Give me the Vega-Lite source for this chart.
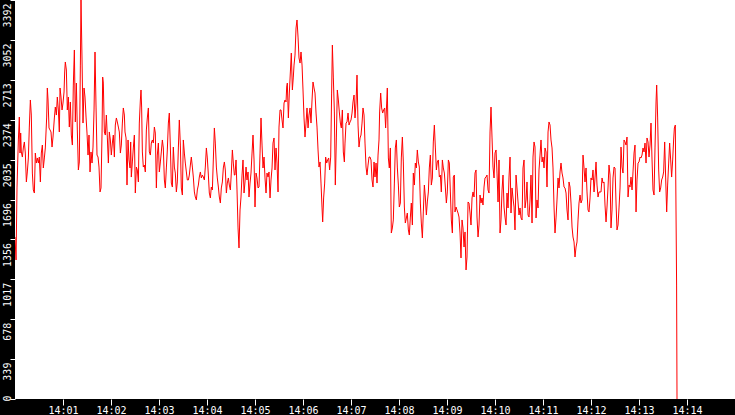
{
  "$schema": "https://vega.github.io/schema/vega-lite/v6.json",
  "autosize": "none",
  "width": 720,
  "height": 399,
  "padding": {"left": 15, "top": 0, "right": 0, "bottom": 16},
  "background": "black",
  "data": {"values": [
    {"t":0,"v":1377},{"t":1.3,"v":1182},{"t":2.5,"v":1794},{"t":3.3,"v":1989},{"t":4.2,"v":2202},{"t":5.4,"v":2397},{"t":6.3,"v":2091},{"t":7.1,"v":2261},{"t":7.9,"v":2100},{"t":9.2,"v":2057},
    {"t":10.4,"v":2134},{"t":11.7,"v":2185},{"t":12.9,"v":2091},{"t":14.2,"v":1845},{"t":15.4,"v":1930},{"t":16.7,"v":2049},{"t":17.9,"v":2312},{"t":19.2,"v":2542},{"t":20.4,"v":2414},{"t":21.7,"v":1921},
    {"t":22.9,"v":1777},{"t":24.2,"v":1751},{"t":25.4,"v":2091},{"t":26.7,"v":2006},{"t":27.9,"v":2049},{"t":29.2,"v":2006},{"t":30.4,"v":2057},{"t":31.7,"v":1845},{"t":32.9,"v":2091},{"t":34.2,"v":2159},
    {"t":35.4,"v":1964},{"t":36.7,"v":2049},{"t":37.9,"v":2134},{"t":39.6,"v":2397},{"t":40.4,"v":2644},{"t":41.3,"v":2542},{"t":42.5,"v":2304},{"t":43.8,"v":2287},{"t":45,"v":2270},{"t":46.3,"v":2142},
    {"t":47.5,"v":2227},{"t":49.2,"v":2389},{"t":50.4,"v":2482},{"t":51.7,"v":2414},{"t":52.9,"v":2567},{"t":54.2,"v":2457},{"t":55.4,"v":2270},{"t":56.3,"v":2644},{"t":57.5,"v":2567},{"t":58.8,"v":2457},
    {"t":60,"v":2516},{"t":61.3,"v":2610},{"t":62.1,"v":2780},{"t":62.9,"v":2865},{"t":64.2,"v":2797},{"t":65.4,"v":2457},{"t":66.7,"v":2567},{"t":67.9,"v":2312},{"t":69.2,"v":2525},{"t":70.4,"v":2244},
    {"t":71.7,"v":2159},{"t":72.9,"v":2669},{"t":74.2,"v":2967},{"t":75.4,"v":2355},{"t":76.7,"v":2686},{"t":77.9,"v":2287},{"t":79.2,"v":1947},{"t":80.4,"v":2015},{"t":81.7,"v":2839},{"t":82.5,"v":3392},
    {"t":83.8,"v":2882},{"t":85,"v":2346},{"t":86.3,"v":2644},{"t":87.5,"v":2567},{"t":88.8,"v":2397},{"t":90,"v":2261},{"t":91.3,"v":2074},{"t":92.5,"v":2244},{"t":93.8,"v":1930},{"t":95,"v":2100},
    {"t":96.3,"v":2006},{"t":97.5,"v":2142},{"t":98.8,"v":2457},{"t":100,"v":2950},{"t":101.3,"v":2482},{"t":102.5,"v":2074},{"t":103.8,"v":2057},{"t":105,"v":1972},{"t":106.3,"v":1760},{"t":107.5,"v":1794},
    {"t":108.8,"v":2261},{"t":109.6,"v":2737},{"t":110.4,"v":2686},{"t":111.7,"v":2270},{"t":112.9,"v":2244},{"t":114.2,"v":2414},{"t":115.4,"v":2227},{"t":116.7,"v":2006},{"t":117.9,"v":2270},{"t":119.2,"v":2202},
    {"t":120.4,"v":2074},{"t":121.7,"v":2176},{"t":122.9,"v":2244},{"t":124.2,"v":2057},{"t":125.4,"v":2329},{"t":126.7,"v":2389},{"t":127.9,"v":2355},{"t":129.2,"v":2312},{"t":130.4,"v":2270},{"t":131.7,"v":2091},
    {"t":132.9,"v":2159},{"t":134.2,"v":2346},{"t":135.4,"v":2474},{"t":136.7,"v":2414},
    {"t":137.5,"v":2270},{"t":138.8,"v":2219},{"t":140,"v":1819},{"t":141.3,"v":2202},{"t":142.5,"v":2032},{"t":143.8,"v":1964},{"t":144.6,"v":2185},{"t":145.4,"v":1887},{"t":146.7,"v":2015},{"t":147.9,"v":2134},
    {"t":149.2,"v":2244},{"t":150.4,"v":1751},{"t":151.7,"v":1972},{"t":152.9,"v":1947},{"t":154.2,"v":1845},{"t":155.4,"v":2346},{"t":156.7,"v":2542},{"t":157.5,"v":2627},{"t":158.3,"v":2482},{"t":159.2,"v":2100},
    {"t":160.4,"v":1972},{"t":161.7,"v":1989},{"t":162.9,"v":1930},{"t":164.2,"v":2287},{"t":165.4,"v":2389},{"t":166.7,"v":2474},{"t":167.9,"v":2100},{"t":169.2,"v":2074},{"t":170.4,"v":2176},{"t":171.7,"v":2202},
    {"t":172.9,"v":2176},{"t":174.2,"v":2312},{"t":175.4,"v":2261},{"t":176.7,"v":1794},{"t":177.9,"v":2074},{"t":179.2,"v":2176},{"t":180.4,"v":1930},{"t":181.7,"v":2015},{"t":182.9,"v":2100},{"t":184.2,"v":2202},
    {"t":185.4,"v":2134},{"t":186.7,"v":1862},{"t":187.9,"v":1794},{"t":189.2,"v":1964},{"t":190.4,"v":2117},{"t":191.7,"v":2346},{"t":192.9,"v":2431},{"t":194.2,"v":2142},{"t":195.4,"v":1836},{"t":196.7,"v":1802},
    {"t":197.9,"v":2142},{"t":199.2,"v":1972},{"t":200.4,"v":1921},{"t":201.7,"v":1760},{"t":202.9,"v":1845},{"t":204.2,"v":2134},{"t":205.4,"v":2372},{"t":206.7,"v":2159},{"t":207.9,"v":1794},{"t":209.2,"v":1734},
    {"t":210.4,"v":2202},{"t":211.7,"v":2091},{"t":212.9,"v":2006},{"t":214.2,"v":1930},{"t":215.4,"v":1862},{"t":216.7,"v":1862},{"t":217.9,"v":1904},{"t":219.2,"v":1989},{"t":220.4,"v":2057},{"t":221.7,"v":1972},
    {"t":222.9,"v":1887},{"t":224.2,"v":1760},{"t":225.4,"v":1717},{"t":226.7,"v":1692},{"t":227.9,"v":1777},{"t":229.2,"v":1819},{"t":230.4,"v":1887},{"t":231.7,"v":1930},{"t":232.9,"v":1879},{"t":234.2,"v":1904},
    {"t":235.4,"v":1887},{"t":236.7,"v":1862},{"t":237.9,"v":1972},{"t":239.2,"v":2134},{"t":240.4,"v":2049},{"t":241.7,"v":1904},{"t":242.9,"v":1751},{"t":244.2,"v":1709},{"t":245.4,"v":1802},{"t":246.7,"v":1777},
    {"t":247.9,"v":2032},{"t":249.2,"v":2304},{"t":250.4,"v":2176},{"t":251.7,"v":1972},{"t":252.9,"v":1879},{"t":254.2,"v":1802},{"t":255.4,"v":1717},{"t":256.7,"v":1666},{"t":257.9,"v":1794},{"t":259.2,"v":1845},
    {"t":260.4,"v":1964},{"t":261.7,"v":2015},{"t":262.9,"v":1947},{"t":264.2,"v":1751},{"t":265.4,"v":1836},{"t":266.7,"v":1879},{"t":267.9,"v":1819},{"t":269.2,"v":1777},{"t":270.4,"v":1921},{"t":271.7,"v":2117},
    {"t":272.9,"v":2006},{"t":274.2,"v":1904},
    {"t":275,"v":1904},{"t":276.3,"v":2032},{"t":277.5,"v":1777},{"t":278.8,"v":1454},{"t":280,"v":1284},{"t":281.3,"v":1607},{"t":282.5,"v":1717},{"t":283.8,"v":1904},{"t":285,"v":2032},{"t":286.3,"v":1751},
    {"t":287.5,"v":1845},{"t":288.8,"v":1972},{"t":290,"v":1862},{"t":291.3,"v":1930},{"t":292.5,"v":1717},{"t":293.8,"v":1836},{"t":295,"v":1921},{"t":296.3,"v":2091},{"t":297.5,"v":2244},{"t":298.8,"v":2032},
    {"t":300,"v":1632},{"t":301.3,"v":1921},{"t":302.5,"v":1879},{"t":303.8,"v":1794},{"t":305,"v":1802},{"t":306.3,"v":2091},{"t":307.5,"v":2389},{"t":308.8,"v":2159},{"t":310,"v":1964},{"t":311.3,"v":2057},
    {"t":312.5,"v":1879},{"t":313.8,"v":1751},{"t":315,"v":1921},{"t":316.3,"v":1887},{"t":317.5,"v":1930},{"t":318.8,"v":1709},{"t":320,"v":1862},{"t":321.3,"v":1964},{"t":322.5,"v":2176},{"t":323.8,"v":2219},
    {"t":325,"v":1947},{"t":326.3,"v":2134},{"t":327.5,"v":2006},{"t":328.8,"v":1760},{"t":330,"v":2312},{"t":331.3,"v":2457},{"t":332.5,"v":2457},{"t":333.8,"v":2372},{"t":335,"v":2304},{"t":336.3,"v":2516},
    {"t":337.5,"v":2542},{"t":338.8,"v":2525},{"t":339.6,"v":2652},{"t":340.4,"v":2686},{"t":341.7,"v":2389},{"t":342.9,"v":2601},{"t":344.2,"v":2780},{"t":345.4,"v":2941},{"t":346.7,"v":2627},{"t":347.9,"v":2737},
    {"t":348.8,"v":2839},{"t":350,"v":2924},{"t":351.3,"v":3154},{"t":352.5,"v":3222},{"t":353.8,"v":3077},{"t":355,"v":2899},{"t":356.3,"v":2856},{"t":357.5,"v":2950},{"t":358.8,"v":2839},{"t":360,"v":2627},
    {"t":361.3,"v":2389},{"t":362.5,"v":2227},{"t":363.8,"v":2346},{"t":365,"v":2474},{"t":366.3,"v":2304},{"t":367.5,"v":2414},{"t":368.8,"v":2474},{"t":370,"v":2346},{"t":371.3,"v":2542},{"t":372.5,"v":2695},
    {"t":373.8,"v":2644},{"t":375,"v":2601},{"t":376.3,"v":2431},{"t":377.5,"v":2312},{"t":378.8,"v":2117},{"t":380,"v":1972},{"t":381.3,"v":2015},{"t":382.5,"v":1836},{"t":383.8,"v":1624},{"t":384.6,"v":1505},
    {"t":385.8,"v":1709},{"t":387.1,"v":1836},{"t":388.3,"v":2057},{"t":389.6,"v":2006},{"t":390.8,"v":2032},{"t":392.1,"v":2049},{"t":393.3,"v":1947},{"t":394.6,"v":2057},{"t":395.8,"v":2601},{"t":396.7,"v":3009},
    {"t":397.9,"v":2737},{"t":399.2,"v":2440},{"t":400.4,"v":1819},{"t":401.7,"v":2219},{"t":402.9,"v":2627},{"t":404.2,"v":2542},{"t":405.4,"v":2440},{"t":406.7,"v":2346},{"t":407.9,"v":2304},{"t":409.2,"v":2457},
    {"t":410.4,"v":2100},{"t":411.7,"v":2015},
    {"t":412.5,"v":2176},{"t":413.8,"v":2346},{"t":415,"v":2355},{"t":416.3,"v":2431},{"t":417.5,"v":2329},{"t":418.8,"v":2355},{"t":420,"v":2372},{"t":421.3,"v":2431},{"t":422.5,"v":2525},{"t":423.8,"v":2584},
    {"t":425,"v":2389},{"t":426.3,"v":2516},{"t":427.5,"v":2754},{"t":428.8,"v":2329},{"t":430,"v":2142},{"t":431.3,"v":2219},{"t":432.5,"v":2244},{"t":433.8,"v":2346},{"t":435,"v":2474},{"t":436.3,"v":2414},
    {"t":437.5,"v":2176},{"t":438.8,"v":1972},{"t":440,"v":1904},{"t":441.3,"v":1989},{"t":442.5,"v":2057},{"t":443.8,"v":2057},{"t":445,"v":2032},{"t":446.3,"v":1862},{"t":447.5,"v":1802},{"t":448.8,"v":2015},
    {"t":450,"v":1887},{"t":451.3,"v":2006},{"t":452.5,"v":1836},{"t":453.8,"v":2074},{"t":455,"v":2202},{"t":455.8,"v":2440},{"t":457.1,"v":2601},{"t":458.3,"v":2474},{"t":459.6,"v":2431},{"t":460.8,"v":2457},
    {"t":462.1,"v":2474},{"t":463.3,"v":2304},{"t":464.6,"v":2516},{"t":465.4,"v":2644},{"t":466.7,"v":2049},{"t":467.9,"v":1964},{"t":469.2,"v":2134},{"t":470.4,"v":1411},{"t":471.7,"v":1454},{"t":472.9,"v":1522},
    {"t":474.2,"v":1836},{"t":475.4,"v":2134},{"t":476.7,"v":2202},{"t":477.9,"v":1972},{"t":479.2,"v":1819},{"t":480.4,"v":1632},{"t":481.7,"v":1666},{"t":482.9,"v":2049},{"t":484.2,"v":2227},{"t":485.4,"v":2015},
    {"t":486.7,"v":1632},{"t":487.9,"v":1496},{"t":489.2,"v":1539},{"t":490.4,"v":1581},{"t":491.7,"v":1437},{"t":492.9,"v":1394},{"t":494.2,"v":1547},{"t":495.4,"v":1666},{"t":496.7,"v":1479},{"t":497.9,"v":1921},
    {"t":499.2,"v":1819},{"t":500.4,"v":2006},{"t":501.7,"v":1964},{"t":502.9,"v":2117},{"t":504.2,"v":2015},{"t":505.4,"v":1972},{"t":506.7,"v":1666},{"t":507.9,"v":1496},{"t":509.2,"v":1369},{"t":510.4,"v":1590},
    {"t":511.7,"v":1819},{"t":512.9,"v":1717},{"t":514.2,"v":1564},{"t":515.4,"v":1675},{"t":516.7,"v":1760},{"t":517.9,"v":1964},{"t":519.2,"v":2074},{"t":520.4,"v":1819},{"t":521.7,"v":1879},{"t":522.9,"v":2185},
    {"t":524.2,"v":2329},{"t":525.4,"v":2142},{"t":526.7,"v":1947},{"t":527.9,"v":2015},{"t":529.2,"v":2032},{"t":530.4,"v":1887},{"t":531.7,"v":1904},{"t":532.9,"v":1760},{"t":534.2,"v":2032},{"t":535.4,"v":1964},
    {"t":536.7,"v":1921},{"t":537.9,"v":1802},{"t":539.2,"v":1666},{"t":540.4,"v":1760},{"t":541.7,"v":2032},{"t":542.9,"v":2006},{"t":544.2,"v":1760},{"t":545.4,"v":1522},{"t":546.7,"v":1411},{"t":547.9,"v":1887},
    {"t":549.2,"v":1904},
    {"t":550,"v":1590},{"t":551.3,"v":1632},{"t":552.5,"v":1607},{"t":553.8,"v":1581},{"t":555,"v":1547},{"t":556.3,"v":1411},{"t":557.5,"v":1199},{"t":558.8,"v":1522},{"t":560,"v":1454},{"t":561.3,"v":1292},
    {"t":562.5,"v":1420},{"t":563.8,"v":1097},{"t":565,"v":1207},{"t":566.3,"v":1675},{"t":567.5,"v":1666},{"t":568.8,"v":1581},{"t":570,"v":1479},{"t":571.3,"v":1709},{"t":572.5,"v":1760},{"t":573.8,"v":1717},
    {"t":575,"v":1921},{"t":576.3,"v":1947},{"t":577.5,"v":1547},{"t":578.8,"v":1377},{"t":580,"v":1479},{"t":581.3,"v":1734},{"t":582.5,"v":1666},{"t":583.8,"v":1709},{"t":585,"v":1649},{"t":586.3,"v":1802},
    {"t":587.5,"v":1879},{"t":588.8,"v":1887},{"t":590,"v":1904},{"t":591.3,"v":1777},{"t":592.5,"v":1751},{"t":593.8,"v":2270},{"t":595,"v":2482},{"t":596.3,"v":2219},{"t":597.5,"v":1972},{"t":598.8,"v":1879},
    {"t":600,"v":2091},{"t":601.3,"v":2117},{"t":602.5,"v":1921},{"t":603.8,"v":1675},{"t":605,"v":2032},{"t":606.3,"v":1411},{"t":607.5,"v":1522},{"t":608.8,"v":1777},{"t":610,"v":1904},{"t":611.3,"v":1632},
    {"t":612.5,"v":1547},{"t":613.8,"v":1479},{"t":615,"v":1751},{"t":616.3,"v":1624},{"t":617.5,"v":1887},{"t":618.8,"v":2057},{"t":620,"v":1581},{"t":621.3,"v":1794},{"t":622.5,"v":1709},{"t":623.8,"v":1632},
    {"t":625,"v":1437},{"t":626.3,"v":1904},{"t":627.5,"v":1794},{"t":628.8,"v":1675},{"t":630,"v":1564},{"t":631.3,"v":1624},{"t":632.5,"v":1539},{"t":633.8,"v":1522},{"t":635,"v":1964},{"t":636.3,"v":2032},
    {"t":637.5,"v":1624},{"t":638.8,"v":1692},{"t":640,"v":1845},{"t":641.3,"v":1564},{"t":642.5,"v":1547},{"t":643.8,"v":1692},{"t":645,"v":1904},{"t":646.3,"v":1496},{"t":647.5,"v":2057},{"t":648.8,"v":2185},
    {"t":650,"v":2142},{"t":651.3,"v":1539},{"t":652.5,"v":1692},{"t":653.8,"v":1624},{"t":655,"v":1947},{"t":656.3,"v":2074},{"t":657.5,"v":2202},{"t":658.8,"v":2015},{"t":660,"v":2057},{"t":661.3,"v":1964},
    {"t":662.5,"v":2134},{"t":663.8,"v":2100},{"t":665,"v":1802},{"t":666.3,"v":2270},{"t":667.5,"v":2355},{"t":668.8,"v":2329},{"t":670,"v":2202},{"t":671.3,"v":2134},{"t":672.5,"v":1964},{"t":673.8,"v":1632},
    {"t":675,"v":1411},{"t":676.3,"v":1539},{"t":677.5,"v":1692},{"t":678.8,"v":1879},{"t":680,"v":1794},{"t":681.3,"v":1930},{"t":682.5,"v":2006},{"t":683.8,"v":1921},{"t":685,"v":1879},{"t":686.3,"v":1802},
    {"t":687.5,"v":1794},{"t":688.8,"v":1751},{"t":690,"v":1607},{"t":691.3,"v":1522},{"t":692.5,"v":1845},{"t":693.8,"v":1802},{"t":695,"v":1666},{"t":696.3,"v":1462},{"t":697.5,"v":1377},{"t":698.8,"v":1335},
    {"t":700,"v":1207},{"t":701.3,"v":1292},{"t":702.5,"v":1335},{"t":703.8,"v":1522},{"t":705,"v":1666},{"t":706.3,"v":1734},{"t":707.5,"v":1666},{"t":708.8,"v":1692},{"t":710,"v":2074},{"t":711.3,"v":1964},
    {"t":712.5,"v":1845},{"t":713.8,"v":1964},{"t":715,"v":1760},{"t":716.3,"v":1607},{"t":717.5,"v":1590},{"t":718.8,"v":1709},{"t":720,"v":1879},{"t":721.3,"v":1862},{"t":722.5,"v":1947},{"t":723.8,"v":1760},
    {"t":725,"v":1879},{"t":726.3,"v":2015},{"t":727.5,"v":1819},{"t":728.8,"v":1717},{"t":730,"v":1760},{"t":731.3,"v":1760},{"t":732.5,"v":1760},{"t":733.8,"v":1879},{"t":735,"v":1836},{"t":736.3,"v":1845},
    {"t":737.5,"v":1649},{"t":738.8,"v":1505},{"t":740,"v":1632},{"t":741.3,"v":1802},{"t":742.5,"v":1989},{"t":743.8,"v":1904},{"t":745,"v":1454},{"t":746.3,"v":1607},{"t":747.5,"v":1879},{"t":748.8,"v":1972},
    {"t":750,"v":1964},{"t":751.3,"v":1666},{"t":752.5,"v":1437},{"t":753.8,"v":1479},{"t":755,"v":1624},{"t":756.3,"v":1794},{"t":757.5,"v":2142},{"t":758.8,"v":1972},{"t":760,"v":1921},{"t":761.3,"v":2202},
    {"t":762.5,"v":2185},{"t":763.8,"v":2159},{"t":765,"v":2227},{"t":766.3,"v":1717},{"t":767.5,"v":1819},{"t":768.8,"v":1802},{"t":770,"v":1887},{"t":771.3,"v":1777},{"t":772.5,"v":1930},{"t":773.8,"v":2091},
    {"t":775,"v":2159},{"t":776.3,"v":1590},{"t":777.5,"v":1862},{"t":778.8,"v":2006},{"t":780,"v":2015},{"t":781.3,"v":2057},{"t":782.5,"v":2049},{"t":783.8,"v":2074},{"t":785,"v":2134},{"t":786.3,"v":2100},
    {"t":787.5,"v":2176},{"t":788.8,"v":2006},{"t":790,"v":2219},{"t":791.3,"v":2185},{"t":792.5,"v":2057},{"t":793.8,"v":2159},{"t":795,"v":2346},{"t":796.3,"v":2032},{"t":797.5,"v":1777},{"t":798.8,"v":1734},
    {"t":800,"v":2134},{"t":801.3,"v":2525},{"t":802.1,"v":2669},{"t":803.3,"v":2397},{"t":804.6,"v":1947},{"t":805.8,"v":1760},{"t":807.1,"v":1794},{"t":808.3,"v":1862},{"t":809.6,"v":1887},{"t":810.8,"v":1930},
    {"t":812.1,"v":2185},{"t":813.3,"v":1887},{"t":814.6,"v":1590},{"t":815.8,"v":1819},{"t":817.1,"v":2006},{"t":818.3,"v":2176},{"t":819.6,"v":2032},{"t":820.8,"v":1887},{"t":822.1,"v":2032},{"t":823.3,"v":2202},
    {"t":824.2,"v":2304},{"t":825.4,"v":2329},{"t":827,"v":969},{"t":827.5,"v":0}
  ]},
  "mark": {"type": "line", "color": "#ff0000", "strokeWidth": 1, "clip": true},
  "encoding": {
    "x": {
      "field": "t",
      "type": "quantitative",
      "scale": {"domain": [0, 900], "nice": false, "zero": false},
      "axis": {
        "title": null,
        "values": [60, 120, 180, 240, 300, 360, 420, 480, 540, 600, 660, 720, 780, 840],
        "labelExpr": "'14:' + (datum.value < 600 ? '0' : '') + (datum.value / 60)",
        "tickSize": 6,
        "labelPadding": 0,
        "labelBaseline": "top",
        "labelFlush": false,
        "labelOverlap": false
      }
    },
    "y": {
      "field": "v",
      "type": "quantitative",
      "scale": {"domain": [0, 3392], "nice": false},
      "axis": {
        "title": null,
        "values": [0, 339.2, 678.4, 1017.6, 1356.8, 1696, 2035.2, 2374.4, 2713.6, 3052.8, 3392],
        "labelExpr": "floor(datum.value + 0.001)",
        "labelAngle": 270,
        "labelAlign": "right",
        "labelBaseline": "alphabetic",
        "labelOffset": {"condition": {"test": "datum.value === 0", "value": -4}, "value": 3},
        "tickSize": 5,
        "labelPadding": 0,
        "labelFlush": false,
        "labelOverlap": false
      }
    }
  },
  "config": {
    "view": {"fill": "white", "stroke": null},
    "axis": {
      "domain": false,
      "grid": false,
      "tickColor": "white",
      "tickWidth": 1,
      "labelColor": "white",
      "labelFont": "DejaVu Sans Mono",
      "labelFontSize": 10
    }
  }
}
